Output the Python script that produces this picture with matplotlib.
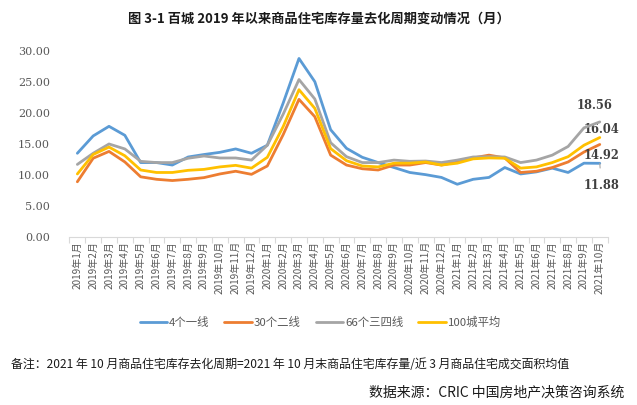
import matplotlib
matplotlib.use("Agg")
import matplotlib.pyplot as plt
from matplotlib.ticker import FixedLocator, NullFormatter

plt.rcParams['font.family'] = ['Noto Sans CJK SC', 'DejaVu Sans']

months = [f"2019年{m}月" for m in range(1, 13)] + \
         [f"2020年{m}月" for m in range(1, 13)] + \
         [f"2021年{m}月" for m in range(1, 11)]

tier1 = [13.5, 16.3, 17.85, 16.4, 12.0, 12.0, 11.6, 12.9, 13.3, 13.65, 14.2, 13.5,
         14.8, 21.6, 28.8, 25.05, 17.3, 14.3, 12.85, 12.0, 11.2, 10.4, 10.05, 9.6,
         8.5, 9.3, 9.6, 11.2, 10.16, 10.5, 11.1, 10.4, 11.9, 11.88]
tier2 = [8.9, 12.7, 13.8, 12.1, 9.7, 9.3, 9.1, 9.3, 9.57, 10.16, 10.6, 10.1,
         11.45, 16.5, 22.2, 19.4, 13.2, 11.6, 11.0, 10.8, 11.6, 11.6, 12.0, 11.6,
         12.1, 12.75, 13.2, 12.75, 10.4, 10.6, 11.2, 12.1, 13.7, 14.92]
tier34 = [11.7, 13.5, 15.0, 14.2, 12.2, 12.0, 12.0, 12.7, 13.06, 12.74, 12.74, 12.4,
          14.8, 19.8, 25.4, 22.26, 15.2, 12.95, 12.0, 12.0, 12.4, 12.2, 12.25, 12.0,
          12.4, 12.9, 12.95, 12.9, 12.0, 12.4, 13.2, 14.6, 17.6, 18.56]
avg100 = [10.16, 13.3, 14.5, 13.1, 10.8, 10.4, 10.4, 10.75, 10.9, 11.3, 11.55, 11.1,
          12.85, 17.8, 23.76, 20.75, 14.25, 12.3, 11.45, 11.3, 11.9, 11.9, 12.1, 11.6,
          11.9, 12.6, 12.75, 12.7, 11.1, 11.3, 12.0, 12.95, 14.8, 16.04]

series = [("4个一线", tier1, "#5B9BD5"),
          ("30个二线", tier2, "#ED7D31"),
          ("66个三四线", tier34, "#A5A5A5"),
          ("100城平均", avg100, "#FFC000")]

fig = plt.figure(figsize=(6.37, 4.05), dpi=100)
ax = fig.add_axes([0.109, 0.415, 0.845, 0.459])

x = list(range(len(months)))
for z, (name, vals, col) in enumerate(series):
    ax.plot(x, vals, color=col, lw=2.0, label=name, zorder=2 + z,
            solid_capstyle='round', solid_joinstyle='round')

ax.set_xlim(-0.5, len(months) - 0.5)
ax.set_ylim(0, 30)
ax.set_yticks([0, 5, 10, 15, 20, 25, 30])
ax.set_yticklabels([f"{v:.2f}" for v in [0, 5, 10, 15, 20, 25, 30]],
                   family=['DejaVu Serif'], fontsize=8, color='#595959')
ax.set_xticks(x)
ax.set_xticklabels(months, rotation=90, fontsize=7.2, color='#595959')
ax.xaxis.set_minor_locator(FixedLocator([i - 0.5 for i in range(len(months) + 1)]))
ax.xaxis.set_minor_formatter(NullFormatter())
ax.tick_params(axis='x', which='major', length=0, pad=3)
ax.tick_params(axis='x', which='minor', length=4, color='#D9D9D9', width=0.8)
ax.tick_params(axis='y', length=0, pad=14)
for s in ['top', 'right', 'left']:
    ax.spines[s].set_visible(False)
ax.spines['bottom'].set_color('#D9D9D9')
ax.spines['bottom'].set_linewidth(0.8)

lab_kw = dict(fontsize=8.3, fontweight='bold', color='#404040', family=['DejaVu Serif'])
ax.annotate("18.56", xy=(33, tier34[-1]), xytext=(32.7, tier34[-1] + 2.6),
            ha='center', va='center', **lab_kw)
ax.annotate("16.04", xy=(33, avg100[-1]), xytext=(33.1, avg100[-1] + 1.3),
            ha='center', va='center', **lab_kw)
ax.annotate("14.92", xy=(33, tier2[-1]), xytext=(33.1, tier2[-1] - 1.7),
            ha='center', va='center', **lab_kw)
ax.annotate("11.88", xy=(33, tier1[-1]), xytext=(33.1, tier1[-1] - 3.6),
            ha='center', va='center',
            arrowprops=dict(arrowstyle='-', color='#A6A6A6', lw=0.8,
                            shrinkA=6, shrinkB=0), **lab_kw)

fig.text(0.5, 0.955, "图 3-1 百城 2019 年以来商品住宅库存量去化周期变动情况（月）",
         ha='center', va='center', fontsize=9.5, fontweight='bold', color='#1a1a1a')

leg = fig.legend(loc='center', bbox_to_anchor=(0.503, 0.205), ncol=4, frameon=False,
                 fontsize=8.2, handlelength=2.4, columnspacing=1.3, handletextpad=0.2)
for t in leg.get_texts():
    t.set_color('#595959')

fig.text(0.018, 0.10,
         "备注：2021 年 10 月商品住宅库存去化周期=2021 年 10 月末商品住宅库存量/近 3 月商品住宅成交面积均值",
         ha='left', va='center', fontsize=8.6, color='#1a1a1a')
fig.text(0.98, 0.032, "数据来源：CRIC 中国房地产决策咨询系统",
         ha='right', va='center', fontsize=10, color='#1a1a1a')

fig.savefig("out.png", dpi=100)
